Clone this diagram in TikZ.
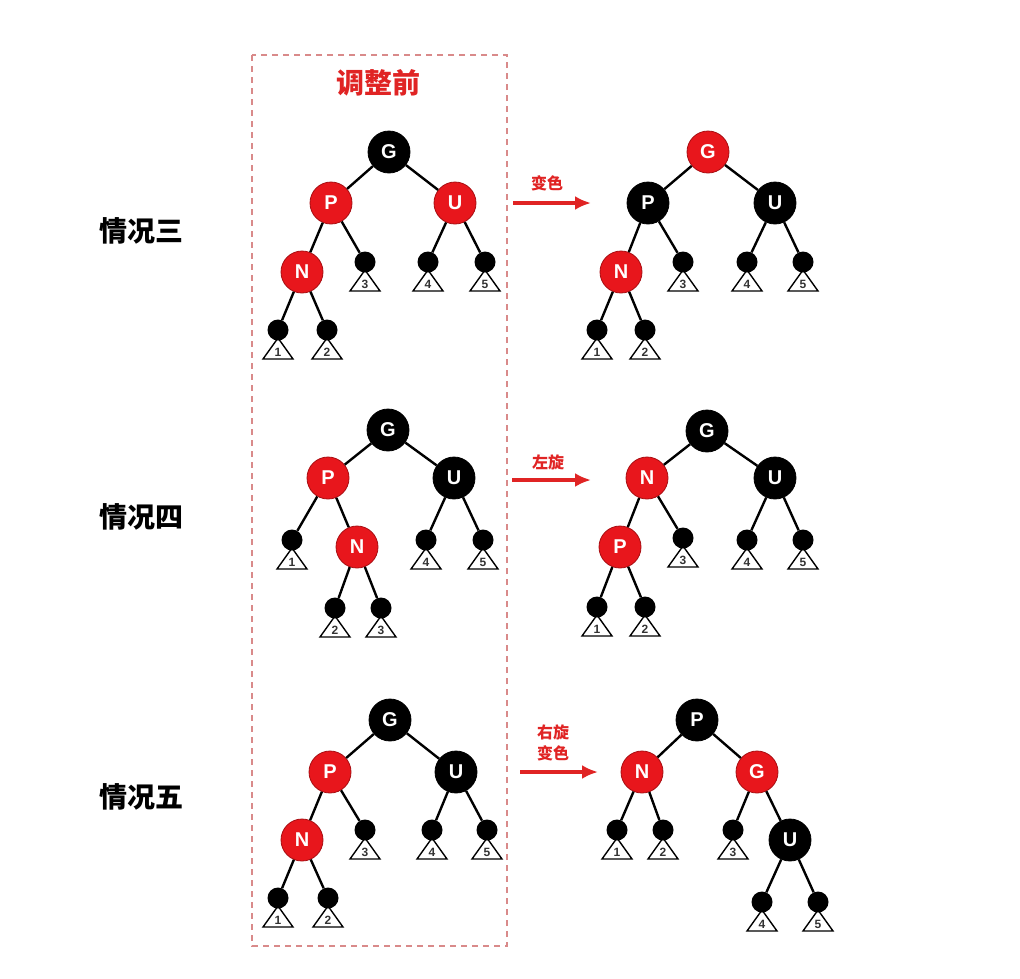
\documentclass[tikz,border=0pt]{standalone}
\usepackage{fontspec}
\setmainfont{Liberation Sans}
\newfontfamily\cjk{Noto Sans CJK SC}
\usetikzlibrary{arrows.meta}
\definecolor{rbred}{HTML}{E8161C}
\definecolor{rbredline}{HTML}{A80E12}
\definecolor{boxred}{HTML}{D98A8A}
\definecolor{arrred}{HTML}{E02424}
\tikzset{
  bn/.style={circle, fill=black, draw=black, line width=0.8pt, minimum size=42pt, inner sep=0pt, text=white, font=\fontsize{20}{20}\selectfont\bfseries},
  rn/.style={bn, fill=rbred, draw=rbredline},
  leafc/.style={circle, fill=black, minimum size=21pt, inner sep=0pt},
  tri/.style={draw=black, fill=white, line width=1.4pt, line join=miter},
  digit/.style={font=\fontsize{12}{12}\selectfont\bfseries, text=black!80, inner sep=0pt},
  edge/.style={line width=2.4pt, draw=black},
  redarrow/.style={line width=3.2pt, draw=arrred, -{Latex[length=16pt,width=14pt]}},
  arrlabel/.style={text=arrred, font=\cjk\bfseries\fontsize{16}{21}\selectfont, align=center, inner sep=0pt},
  caselabel/.style={text=black, font=\cjk\bfseries\fontsize{28}{28}\selectfont, inner sep=0pt},
  titlelabel/.style={text=arrred, font=\cjk\bfseries\fontsize{28}{28}\selectfont, inner sep=0pt},
  dashbox/.style={draw=boxred, line width=1.5pt, dash pattern=on 6pt off 5pt},
}
\newcommand\leaf[3]{%
  \path (#2) ++(0,8) coordinate (#1a) ++(0,14.5) coordinate (#1d);
  \draw[tri] (#1a) -- ++(-15,21) -- ++(30,0) -- cycle;
  \node[digit] (#1t) at (#1d) {#3};
  \node[leafc] (#1) at (#2) {};
}
\begin{document}
\begin{tikzpicture}[x=1pt,y=-1pt]
\useasboundingbox (0,0) rectangle (1020,978);
\fill[white] (0,0) rectangle (1020,978);

% dashed box and title
\draw[dashbox] (252,55) rectangle (507,946);
\node[titlelabel] (title) at (378,83) {调整前};

% case labels
\node[caselabel] (c3) at (141,231) {情况三};
\node[caselabel] (c4) at (141,517) {情况四};
\node[caselabel] (c5) at (141,797) {情况五};

% ---------- Tree A ----------
\node[bn] (aG) at (389,152) {G};
\node[rn] (aP) at (331,203) {P};
\node[rn] (aU) at (455,203) {U};
\node[rn] (aN) at (302,272) {N};
\leaf{a3}{365,262}{3}
\leaf{a4}{428,262}{4}
\leaf{a5}{485,262}{5}
\leaf{a1}{278,330}{1}
\leaf{a2}{327,330}{2}
\draw[edge] (aG)--(aP) (aG)--(aU) (aP)--(aN) (aP)--(a3) (aU)--(a4) (aU)--(a5) (aN)--(a1) (aN)--(a2);

% ---------- Tree B ----------
\node[rn] (bG) at (708,152) {G};
\node[bn] (bP) at (648,203) {P};
\node[bn] (bU) at (775,203) {U};
\node[rn] (bN) at (621,272) {N};
\leaf{b3}{683,262}{3}
\leaf{b4}{747,262}{4}
\leaf{b5}{803,262}{5}
\leaf{b1}{597,330}{1}
\leaf{b2}{645,330}{2}
\draw[edge] (bG)--(bP) (bG)--(bU) (bP)--(bN) (bP)--(b3) (bU)--(b4) (bU)--(b5) (bN)--(b1) (bN)--(b2);

% ---------- Tree C ----------
\node[bn] (cG) at (388,430) {G};
\node[rn] (cP) at (328,478) {P};
\node[bn] (cU) at (454,478) {U};
\node[rn] (cN) at (357,547) {N};
\leaf{c1}{292,540}{1}
\leaf{c4}{426,540}{4}
\leaf{c5}{483,540}{5}
\leaf{c2}{335,608}{2}
\leaf{c3}{381,608}{3}
\draw[edge] (cG)--(cP) (cG)--(cU) (cP)--(c1) (cP)--(cN) (cN)--(c2) (cN)--(c3) (cU)--(c4) (cU)--(c5);

% ---------- Tree D ----------
\node[bn] (dG) at (707,431) {G};
\node[rn] (dN) at (647,478) {N};
\node[bn] (dU) at (775,478) {U};
\node[rn] (dP) at (620,547) {P};
\leaf{d3}{683,538}{3}
\leaf{d4}{747,540}{4}
\leaf{d5}{803,540}{5}
\leaf{d1}{597,607}{1}
\leaf{d2}{645,607}{2}
\draw[edge] (dG)--(dN) (dG)--(dU) (dN)--(dP) (dN)--(d3) (dP)--(d1) (dP)--(d2) (dU)--(d4) (dU)--(d5);

% ---------- Tree E ----------
\node[bn] (eG) at (390,720) {G};
\node[rn] (eP) at (330,772) {P};
\node[bn] (eU) at (456,772) {U};
\node[rn] (eN) at (302,840) {N};
\leaf{e3}{365,830}{3}
\leaf{e4}{432,830}{4}
\leaf{e5}{487,830}{5}
\leaf{e1}{278,898}{1}
\leaf{e2}{328,898}{2}
\draw[edge] (eG)--(eP) (eG)--(eU) (eP)--(eN) (eP)--(e3) (eU)--(e4) (eU)--(e5) (eN)--(e1) (eN)--(e2);

% ---------- Tree F ----------
\node[bn] (fP) at (697,720) {P};
\node[rn] (fN) at (642,772) {N};
\node[rn] (fG) at (757,772) {G};
\node[bn] (fU) at (790,840) {U};
\leaf{f1}{617,830}{1}
\leaf{f2}{663,830}{2}
\leaf{f3}{733,830}{3}
\leaf{f4}{762,902}{4}
\leaf{f5}{818,902}{5}
\draw[edge] (fP)--(fN) (fP)--(fG) (fN)--(f1) (fN)--(f2) (fG)--(f3) (fG)--(fU) (fU)--(f4) (fU)--(f5);

% ---------- arrows ----------
\coordinate (r1s) at (513,203); \coordinate (r1e) at (591,203);
\draw[redarrow] (r1s) -- (r1e);
\node[arrlabel] (l1) at (547,183) {变色};
\coordinate (r2s) at (512,480); \coordinate (r2e) at (591,480);
\draw[redarrow] (r2s) -- (r2e);
\node[arrlabel] (l2) at (548,462) {左旋};
\coordinate (r3s) at (520,772); \coordinate (r3e) at (598,772);
\draw[redarrow] (r3s) -- (r3e);
\node[arrlabel] (l3) at (553,743) {右旋\\变色};
\end{tikzpicture}
\end{document}
